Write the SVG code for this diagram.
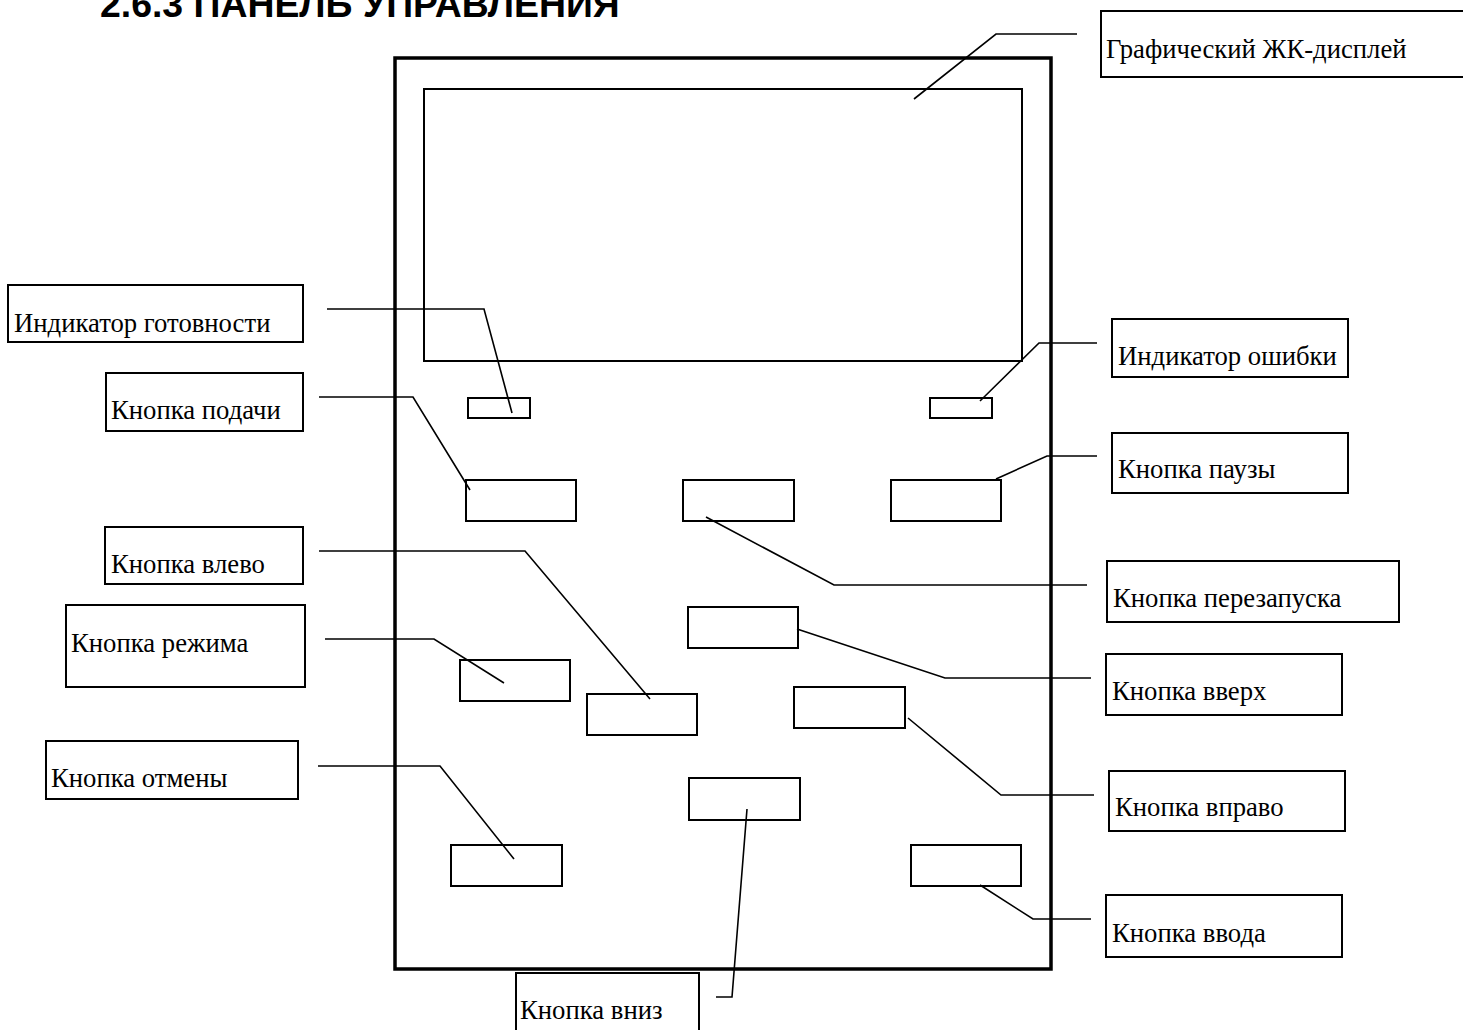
<svg xmlns="http://www.w3.org/2000/svg" width="1463" height="1030" viewBox="0 0 1463 1030">
<style>
.title{font-family:"Liberation Sans",Arial,sans-serif;font-weight:bold;font-size:37.4px;fill:#000}
.lbl{font-family:"Liberation Serif","Times New Roman",serif;font-size:26.7px;fill:#000}
.box{fill:#fff;stroke:#000;stroke-width:2}
.btn{fill:none;stroke:#000;stroke-width:2}
.panel{fill:none;stroke:#000;stroke-width:3.5}
.lead{fill:none;stroke:#000;stroke-width:1.6}
</style>
<rect width="1463" height="1030" fill="#fff"/>
<text class="title" x="100" y="16.5">2.6.3 ПАНЕЛЬ УПРАВЛЕНИЯ</text>

<g id="panel">
<rect class="panel" x="395" y="58" width="656" height="911"/>
</g>
<g id="display"><rect class="btn" x="424" y="89" width="598" height="272"/></g>
<g id="ready-led"><rect class="btn" x="468" y="398" width="62" height="20"/></g>
<g id="error-led"><rect class="btn" x="930" y="398" width="62" height="20"/></g>
<g id="feed-btn"><rect class="btn" x="466" y="480" width="110" height="41"/></g>
<g id="restart-btn"><rect class="btn" x="683" y="480" width="111" height="41"/></g>
<g id="pause-btn"><rect class="btn" x="891" y="480" width="110" height="41"/></g>
<g id="up-btn"><rect class="btn" x="688" y="607" width="110" height="41"/></g>
<g id="mode-btn"><rect class="btn" x="460" y="660" width="110" height="41"/></g>
<g id="left-btn"><rect class="btn" x="587" y="694" width="110" height="41"/></g>
<g id="right-btn"><rect class="btn" x="794" y="687" width="111" height="41"/></g>
<g id="down-btn"><rect class="btn" x="689" y="778" width="111" height="42"/></g>
<g id="cancel-btn"><rect class="btn" x="451" y="845" width="111" height="41"/></g>
<g id="enter-btn"><rect class="btn" x="911" y="845" width="110" height="41"/></g>

<g id="connectors">
<polyline class="lead" points="1077,34 996,34 914,99"/>
<polyline class="lead" points="327,309 484,309 512,413"/>
<polyline class="lead" points="319,397 413,397 470,490"/>
<polyline class="lead" points="1097,343 1039,343 980,401"/>
<polyline class="lead" points="1097,456 1047,456 996,479"/>
<polyline class="lead" points="1087,585 834,585 706,517"/>
<polyline class="lead" points="319,551 525,551 650,699"/>
<polyline class="lead" points="325,639 434,639 504,683"/>
<polyline class="lead" points="1091,678 945,678 797,629"/>
<polyline class="lead" points="318,766 440,766 514,859"/>
<polyline class="lead" points="1094,795 1001,795 908,718"/>
<polyline class="lead" points="1091,919 1033,919 980,885"/>
<polyline class="lead" points="716,997 732,997 747,809"/>
</g>

<g id="lbl-display"><rect class="box" x="1101" y="11" width="366" height="66"/><text class="lbl" x="1106" y="58">Графический ЖК-дисплей</text></g>
<g id="lbl-ready"><rect class="box" x="8" y="285" width="295" height="57"/><text class="lbl" x="14" y="332">Индикатор готовности</text></g>
<g id="lbl-feed"><rect class="box" x="106" y="373" width="197" height="58"/><text class="lbl" x="111" y="419">Кнопка подачи</text></g>
<g id="lbl-error"><rect class="box" x="1112" y="319" width="236" height="58"/><text class="lbl" x="1118" y="365">Индикатор ошибки</text></g>
<g id="lbl-pause"><rect class="box" x="1112" y="433" width="236" height="60"/><text class="lbl" x="1118" y="478">Кнопка паузы</text></g>
<g id="lbl-restart"><rect class="box" x="1107" y="561" width="292" height="61"/><text class="lbl" x="1113" y="607">Кнопка перезапуска</text></g>
<g id="lbl-left"><rect class="box" x="105" y="527" width="198" height="57"/><text class="lbl" x="111" y="573">Кнопка влево</text></g>
<g id="lbl-mode"><rect class="box" x="66" y="605" width="239" height="82"/><text class="lbl" x="71" y="652">Кнопка режима</text></g>
<g id="lbl-up"><rect class="box" x="1106" y="654" width="236" height="61"/><text class="lbl" x="1112" y="700">Кнопка вверх</text></g>
<g id="lbl-cancel"><rect class="box" x="46" y="741" width="252" height="58"/><text class="lbl" x="51" y="787">Кнопка отмены</text></g>
<g id="lbl-right"><rect class="box" x="1109" y="771" width="236" height="60"/><text class="lbl" x="1115" y="816">Кнопка вправо</text></g>
<g id="lbl-enter"><rect class="box" x="1106" y="895" width="236" height="62"/><text class="lbl" x="1112" y="942">Кнопка ввода</text></g>
<g id="lbl-down"><rect class="box" x="516" y="973" width="183" height="70"/><text class="lbl" x="520" y="1019">Кнопка вниз</text></g>
</svg>
